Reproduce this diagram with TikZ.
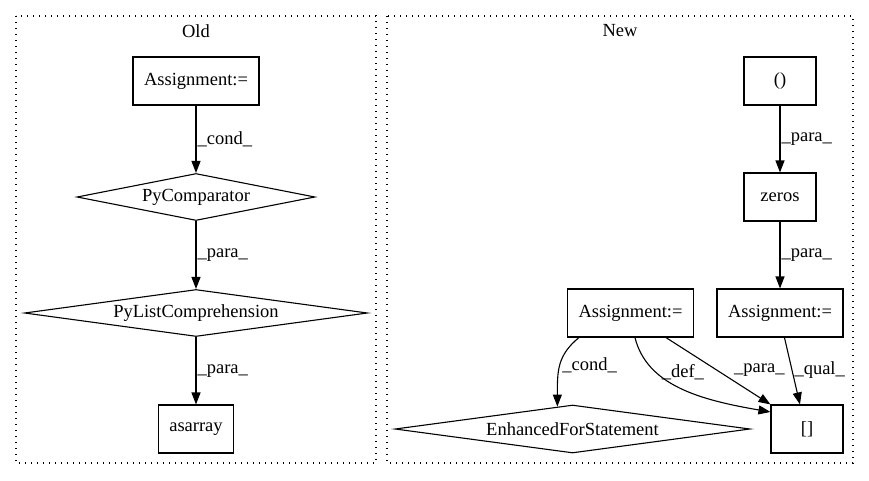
\documentclass[tikz,border=0pt]{standalone}
\usepackage{fontspec}
\setmainfont{Liberation Serif}
\usetikzlibrary{shapes.geometric,arrows.meta}

\tikzset{
  stmt/.style={draw, rectangle, line width=1.1pt, minimum height=48pt, inner sep=0pt},
  cond/.style={draw, diamond, aspect=6, line width=1.1pt, inner sep=0pt},
  lbl/.style={inner sep=1pt},
  cluster/.style={line width=1.1pt, dash pattern=on 1.3pt off 4.7pt},
}

\begin{document}
\begin{tikzpicture}[x=1pt, y=-1pt, font=\fontsize{18.5}{22}\selectfont,
    >={Triangle[length=12pt,width=9pt]}]
    \useasboundingbox (0,0) rectangle (869,480);

    \draw[cluster] (16,16) rectangle (376,463);
    \draw[cluster] (387,16) rectangle (853,463);
    \node (old) at (196, 31) {Old};
    \node (new) at (620, 31) {New};

    \node[stmt, minimum width=126pt] (asgOld) at (196, 81) {Assignment:=};
    \node[cond, minimum width=238pt, minimum height=47pt] (cmp) at (196, 197) {PyComparator};
    \node[cond, minimum width=343pt, minimum height=47pt] (lcomp) at (196, 313) {PyListComprehension};
    \node[stmt, minimum width=75pt] (asarray) at (196, 429) {asarray};

    \node[stmt, minimum width=72pt] (tup) at (780, 81) {()};
    \node[stmt, minimum width=72pt] (zeros) at (780, 197) {zeros};
    \node[stmt, minimum width=126pt] (asgR) at (780, 313) {Assignment:=};
    \node[stmt, minimum width=126pt] (asgL) at (630.5, 313) {Assignment:=};
    \node[cond, minimum width=355pt, minimum height=48pt] (efs) at (572.5, 429) {EnhancedForStatement};
    \node[stmt, minimum width=72pt] (brk) at (807, 429) {[]};

    \begin{scope}[every path/.style={->, line width=1.1pt}]
       \draw (asgOld) -- node[lbl, right] {\_cond\_} (cmp);
       \draw (cmp) -- node[lbl, right] {\_para\_} (lcomp);
       \draw (lcomp) -- node[lbl, right] {\_para\_} (asarray);

       \draw (tup) -- node[lbl, right] {\_para\_} (zeros);
       \draw (zeros) -- node[lbl, right] {\_para\_} (asgR);

       \draw ([xshift=12pt]asgL.south west) .. controls +(-22,18) and +(0,-35) .. node[lbl, pos=0.5, right=1pt] {\_cond\_} (efs.124);
       \draw ([xshift=68pt]asgL.south west) .. controls +(12,48) and +(-70,-12) .. node[lbl, pos=0.3, right=4pt] {\_def\_} (brk.155);
       \draw ([xshift=99pt]asgL.south west) -- node[lbl, pos=0.485, right=16pt] {\_para\_} (brk.north west);
       \draw ([xshift=68pt]asgR.south west) -- node[lbl, pos=0.485, right=1pt] {\_qual\_} (brk.106);
    \end{scope}
\end{tikzpicture}
\end{document}
